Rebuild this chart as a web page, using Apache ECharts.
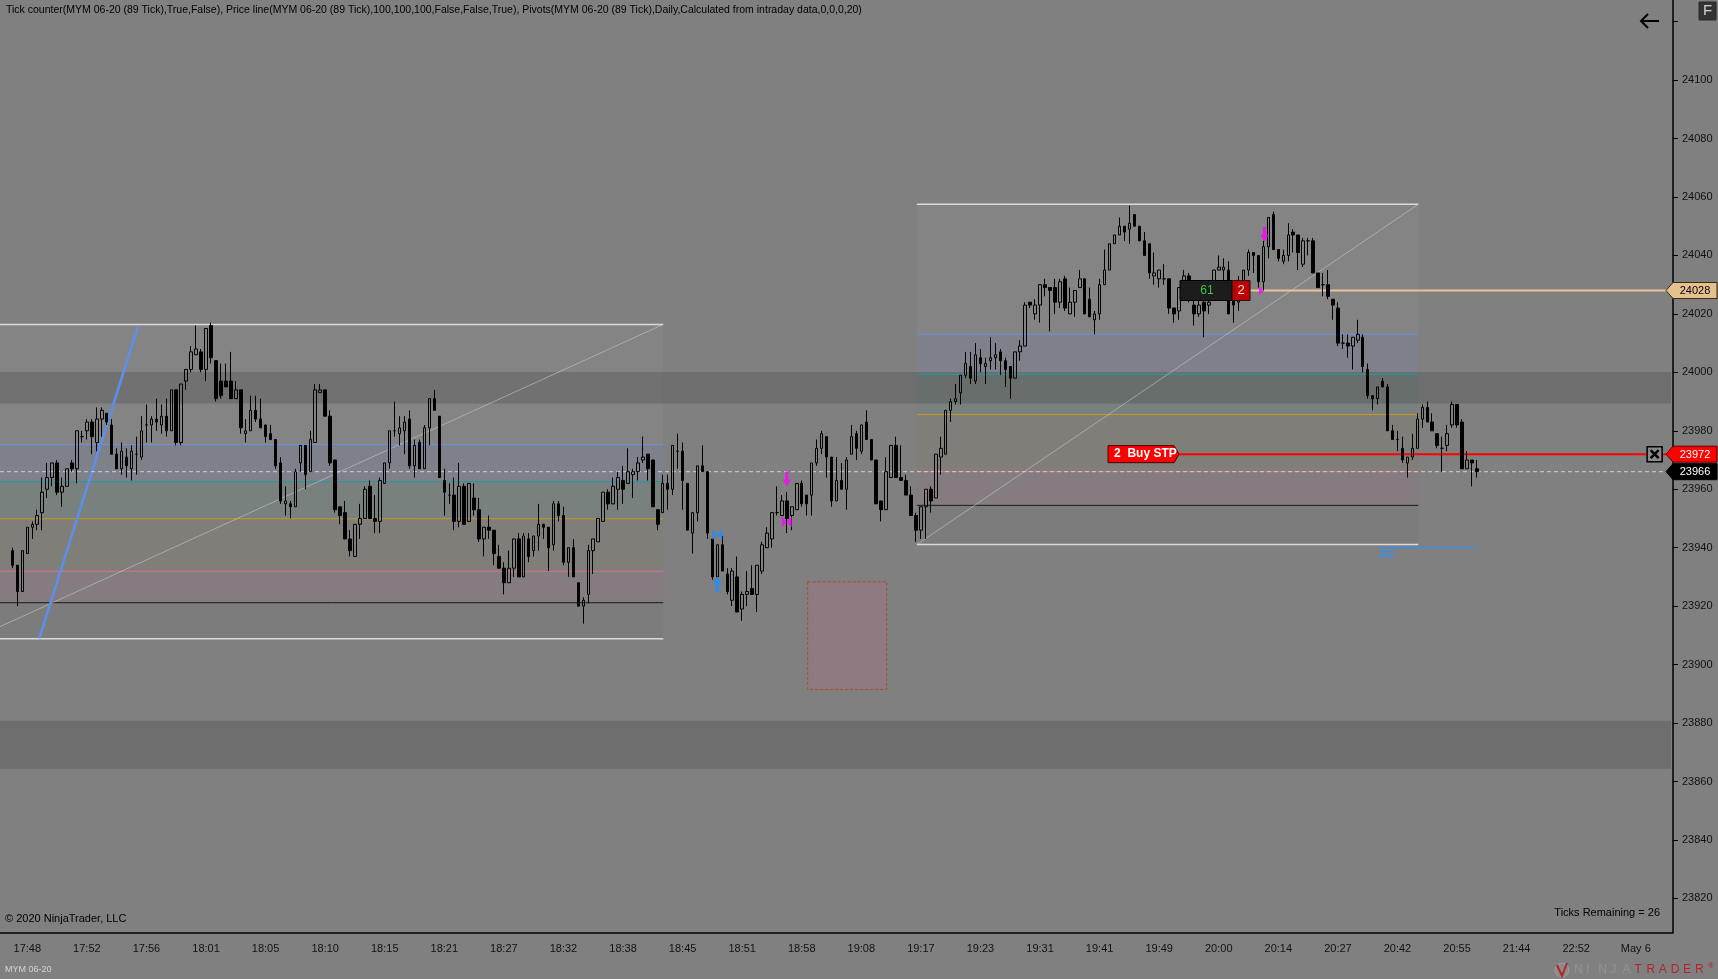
<!DOCTYPE html>
<html><head><meta charset="utf-8">
<script src="https://cdn.jsdelivr.net/npm/echarts@6/dist/echarts.min.js"></script>
<style>html,body{margin:0;padding:0;background:#808080;overflow:hidden}#c{width:1718px;height:979px;}</style>
</head><body><div id="c"></div><script>
// ---------------- data ----------------
const timeLabels = ['17:48','17:52','17:56','18:01','18:05','18:10','18:15','18:21','18:27','18:32','18:38','18:45','18:51','18:58','19:08','19:17','19:23','19:31','19:41','19:49','20:00','20:14','20:27','20:42','20:55','21:44','22:52','May 6'];
const yTickValues = [23820,23840,23860,23880,23900,23920,23940,23960,23980,24000,24020,24040,24060,24080,24100,24120];
const yLabelValues = [23820,23840,23860,23880,23900,23920,23940,23960,23980,24000,24020,24040,24060,24080,24100];
const firstBar = 2;
// [open, close, low, high]
const ohlc = [
[23939,23934,23933,23940],[23934,23925,23920,23934],[23925,23939,23925,23939],[23938,23947,23938,23947],[23947,23948,23943,23949],
[23948,23951,23946,23953],[23952,23959,23946,23964],[23960,23964,23957,23969],[23964,23969,23961,23969],[23969,23959,23958,23970],
[23959,23961,23954,23964],[23961,23967,23961,23967],[23969,23967,23966,23970],[23967,23980,23962,23980],[23978,23978,23976,23980],
[23980,23983,23977,23984],[23983,23978,23972,23984],[23976,23984,23973,23988],[23984,23987,23978,23988],[23986,23983,23982,23986],
[23982,23972,23972,23984],[23972,23967,23967,23974],[23967,23973,23965,23976],[23971,23968,23964,23974],[23967,23973,23963,23975],
[23972,23972,23965,23978],[23971,23980,23970,23985],[23982,23982,23976,23989],[23982,23984,23976,23985],[23984,23983,23980,23991],
[23982,23985,23979,23989],[23985,23980,23978,23991],[23980,23994,23980,23994],[23994,23976,23975,23994],[23976,23996,23975,23996],
[23997,24001,23994,24001],[24001,24007,24000,24009],[24006,24008,24006,24016],[24007,24001,24000,24008],[24001,24015,23997,24015],
[24016,24005,24003,24017],[24004,23991,23990,24004],[23997,23992,23991,24003],[23997,23995,23995,24003],[23997,23991,23991,24007],
[23991,23994,23991,23997],[23994,23981,23979,23994],[23979,23980,23976,23984],[23980,23987,23980,23992],[23987,23984,23983,23992],
[23984,23981,23981,23991],[23982,23978,23976,23982],[23979,23977,23977,23982],[23977,23968,23967,23977],[23969,23956,23955,23971],
[23955,23956,23951,23961],[23955,23954,23950,23956],[23954,23966,23954,23967],[23969,23975,23966,23975],[23975,23965,23960,23975],
[23966,23977,23966,23980],[23976,23994,23976,23996],[23993,23994,23993,23996],[23994,23985,23985,23994],[23985,23969,23968,23987],
[23970,23953,23952,23970],[23954,23951,23948,23954],[23952,23943,23943,23956],[23943,23939,23937,23946],[23937,23948,23937,23948],
[23948,23950,23943,23955],[23950,23960,23950,23961],[23961,23950,23950,23963],[23950,23949,23945,23958],[23949,23963,23945,23964],
[23962,23969,23962,23969],[23969,23980,23967,23980],[23980,23980,23978,23990],[23979,23981,23975,23985],[23980,23983,23972,23985],
[23984,23968,23967,23987],[23968,23975,23964,23977],[23976,23967,23967,23977],[23967,23981,23967,23982],[23981,23991,23975,23991],
[23991,23987,23987,23994],[23985,23964,23964,23985],[23963,23959,23951,23967],[23958,23958,23955,23962],[23958,23949,23946,23964],
[23949,23961,23947,23969],[23961,23948,23948,23962],[23949,23962,23949,23962],[23957,23953,23951,23962],[23953,23943,23942,23957],
[23943,23947,23937,23947],[23947,23946,23943,23951],[23946,23938,23934,23946],[23937,23933,23933,23941],[23933,23928,23924,23935],
[23928,23933,23928,23939],[23933,23943,23930,23943],[23943,23930,23930,23945],[23930,23944,23930,23945],[23943,23937,23935,23945],
[23939,23944,23937,23944],[23944,23948,23939,23955],[23948,23947,23943,23948],[23947,23940,23932,23947],[23941,23955,23939,23956],
[23955,23951,23949,23956],[23951,23935,23934,23954],[23935,23940,23930,23940],[23940,23930,23930,23943],[23928,23920,23920,23928],
[23920,23922,23914,23923],[23924,23939,23921,23941],[23939,23943,23931,23943],[23942,23950,23942,23950],[23949,23959,23949,23959],
[23959,23955,23953,23960],[23955,23961,23955,23964],[23960,23964,23953,23966],[23963,23960,23955,23968],[23962,23966,23962,23974],
[23965,23966,23957,23967],[23966,23969,23963,23971],[23970,23971,23969,23978],[23972,23967,23963,23972],[23970,23954,23954,23970],
[23953,23948,23946,23953],[23952,23962,23952,23965],[23962,23960,23953,23965],[23960,23975,23958,23975],[23973,23973,23967,23979],
[23973,23963,23953,23976],[23962,23946,23946,23962],[23945,23952,23938,23952],[23952,23968,23949,23968],[23968,23966,23966,23975],
[23966,23945,23943,23966],[23943,23930,23929,23943],[23930,23941,23930,23941],[23941,23932,23932,23944],[23931,23925,23924,23933],
[23922,23932,23920,23933],[23930,23918,23918,23937],[23919,23924,23915,23925],[23924,23925,23920,23932],[23926,23924,23924,23934],
[23924,23934,23918,23934],[23932,23941,23931,23942],[23940,23945,23940,23947],[23943,23952,23940,23952],[23952,23952,23951,23961],
[23951,23956,23951,23958],[23956,23950,23945,23959],[23951,23954,23946,23954],[23953,23962,23953,23962],[23962,23955,23954,23963],
[23958,23955,23951,23958],[23958,23969,23951,23969],[23969,23974,23968,23977],[23974,23979,23972,23980],[23978,23971,23964,23978],
[23971,23956,23954,23971],[23956,23963,23956,23971],[23963,23960,23960,23969],[23960,23970,23953,23971],[23972,23978,23972,23982],
[23979,23974,23970,23980],[23973,23982,23972,23982],[23983,23977,23977,23987],[23977,23970,23970,23977],[23970,23955,23955,23970],
[23956,23953,23949,23956],[23953,23966,23953,23971],[23964,23975,23964,23975],[23975,23964,23964,23978],[23964,23963,23963,23975],
[23963,23958,23958,23965],[23958,23951,23951,23961],[23951,23946,23942,23952],[23946,23954,23943,23954],[23954,23960,23943,23960],
[23960,23956,23952,23961],[23957,23972,23957,23972],[23971,23974,23965,23978],[23972,23987,23972,23987],[23987,23990,23983,23991],
[23990,23991,23989,23996],[23993,23999,23989,23999],[23999,24003,23998,24007],[24002,23998,23996,24007],[23997,24006,23996,24010],
[24005,24003,24000,24008],[24002,24003,23996,24005],[24004,24005,24001,24012],[24005,24006,24001,24010],[24007,24004,23999,24008],
[24004,24001,23995,24005],[24002,23998,23991,24002],[23998,24007,23998,24007],[24007,24009,24004,24011],[24009,24023,24009,24024],
[24024,24023,24022,24024],[24020,24023,24018,24025],[24023,24030,24017,24030],[24030,24029,24026,24032],[24029,24028,24014,24029],
[24029,24024,24020,24032],[24024,24031,24022,24032],[24032,24022,24021,24033],[24020,24024,24020,24029],[24024,24028,24019,24028],
[24029,24032,24029,24035],[24032,24020,24020,24032],[24025,24019,24019,24029],[24018,24020,24013,24021],[24020,24030,24018,24032],
[24030,24035,24030,24042],[24035,24044,24035,24044],[24044,24047,24044,24047],[24047,24050,24047,24053],[24050,24048,24045,24050],
[24049,24051,24044,24057],[24054,24050,24050,24054],[24050,24045,24045,24050],[24045,24040,24040,24048],[24044,24034,24032,24044],
[24033,24034,24030,24041],[24032,24035,24029,24035],[24032,24032,24030,24037],[24032,24022,24020,24032],[24022,24020,24017,24022],
[24021,24029,24018,24029],[24029,24033,24027,24035],[24033,24029,24024,24034],[24023,24020,24016,24028],[24020,24023,24019,24027],
[24024,24021,24012,24026],[24023,24024,24020,24025],[24031,24035,24031,24035],[24035,24036,24035,24040],[24035,24036,24031,24039],
[24035,24020,24020,24038],[24025,24023,24017,24025],[24024,24026,24021,24033],[24031,24035,24031,24035],[24035,24041,24033,24042],
[24041,24040,24034,24041],[24040,24031,24029,24040],[24031,24043,24028,24045],[24043,24053,24039,24053],[24054,24042,24042,24055],
[24042,24039,24038,24042],[24038,24040,24037,24042],[24040,24047,24038,24051],[24048,24047,24041,24049],[24047,24041,24035,24047],
[24037,24045,24036,24046],[24045,24045,24040,24046],[24045,24034,24034,24046],[24034,24029,24029,24034],[24030,24030,24026,24034],
[24030,24026,24025,24035],[24025,24023,24018,24025],[24022,24010,24009,24024],[24010,24010,24008,24013],[24010,24009,24005,24013],
[24009,24012,24001,24012],[24011,24013,24010,24018],[24012,24002,24000,24013],[24001,23992,23991,24003],[23992,23991,23987,23992],
[23991,23995,23989,23995],[23997,23995,23995,23998],[23995,23980,23980,23996],[23980,23977,23977,23982],[23977,23977,23973,23980],
[23974,23970,23969,23978],[23969,23971,23964,23971],[23971,23974,23970,23979],[23974,23984,23974,23986],[23984,23988,23981,23989],
[23988,23983,23983,23990],[23983,23980,23980,23986],[23979,23975,23974,23979],[23974,23974,23966,23978],[23975,23979,23973,23982],
[23982,23989,23981,23990],[23989,23982,23981,23989],[23983,23967,23967,23984],[23967,23970,23967,23973],[23970,23969,23961,23970],
[23967,23966,23964,23970]
];
// Fibonacci retracement drawings (anchor low/high prices, bar-index span)
const fibRatios = [0, 0.115, 0.215, 0.382, 0.5, 0.618, 1];
const fibLows = [23908.8, 23941.1];
const fibHighs = [24016.4, 24057.5];
const fibStart = [-0.5, 184.2];
const fibEnd = [133.1, 285.2];
const fibAnchorStart = [-5.9, 184.2];
// dark horizontal zones
const zoneLows = [23989.3, 23864.4];
const zoneHighs = [24000.1, 23880.8];
// pink rectangle
const boxLow = 23891.5, boxHigh = 23928.3, boxFrom = 162.2, boxTo = 178.1;
// blue trend line
const trendPoints = [[7.4, 23909], [27.3, 24015.7]];
const currentPrice = 23966;
const buyStopPrice = 23972, buyStopQty = 2;
const positionPrice = 24028, positionQty = 2, positionTicks = 61;
const r2Price = 23940;
const tagPrices = [24028, 23972, 23966];
const blueMarkers = [[144, 23944.5, 'bowtie'], [144, 23927.5, 'up']];
const pinkMarkers = [[158, 23963.5, 'down'], [158, 23948.8, 'bowtie'], [254.2, 24047.2, 'down'], [253.6, 24027.8, 'tri']];

// ---------------- layout ----------------
const SLOTS = 337;
const FONT = '"Liberation Sans", Arial, sans-serif';
const categories = [];
for (let i = 0; i < SLOTS; i++) {
  const k = (i - 5) / 12;
  categories.push(Number.isInteger(k) && k >= 0 && k < timeLabels.length ? timeLabels[k] : '');
}
const candleData = ohlc.map((d, k) => [firstBar + k, d[0], d[1], d[2], d[3]]);

const fibFillColors = ['rgba(0,0,0,0.03)', 'rgba(168,88,128,0.11)', 'rgba(128,108,58,0.10)', 'rgba(81,135,115,0.16)', 'rgba(108,128,218,0.11)', 'rgba(255,255,255,0.03)'];
const fibLineColors = ['#dadada', '#1a1a1a', '#d9728f', '#c9961c', '#1f9c9c', '#6a92e6', '#dadada'];
const fibFill = [], fibLines = [];
for (let b = 0; b < fibLows.length; b++) {
  const rng = fibHighs[b] - fibLows[b];
  for (let k = 0; k < fibRatios.length; k++) {
    const lv = fibLows[b] + fibRatios[k] * rng;
    fibLines.push([fibStart[b], fibEnd[b], lv, lv, k]);
    if (k < fibRatios.length - 1) fibFill.push([fibStart[b], fibEnd[b], lv, fibLows[b] + fibRatios[k + 1] * rng, k]);
  }
}
const zoneData = zoneLows.map((l, k) => [-0.5, 336.1, l, zoneHighs[k]]);

function rectShape(api) {
  const a = api.coord([api.value(0), api.value(3)]);
  const b = api.coord([api.value(1), api.value(2)]);
  return { x: a[0], y: a[1], width: b[0] - a[0], height: b[1] - a[1] };
}
const symbols = {
  down: { p: 'path://M3,0 L7,0 L7,8 L10,8 L5,15 L0,8 L3,8 Z', s: [8, 15] },
  up: { p: 'path://M5,0 L10,7 L7,7 L7,15 L3,15 L3,7 L0,7 Z', s: [9, 16] },
  bowtie: { p: 'path://M0,0 L5,5 L0,10 Z M10,0 L5,5 L10,10 Z', s: [10, 11] },
  tri: { p: 'path://M0,0 L6,4 L0,8 Z', s: [5, 8] }
};
function markerData(arr) {
  return arr.map(m => ({ value: [m[0], m[1]], symbol: symbols[m[2]].p, symbolSize: symbols[m[2]].s }));
}
const tagFill = ['#e6c190', '#ff0000', '#000000'];
const tagText = ['#000000', '#ffffff', '#ffffff'];
const tagStroke = ['#3a2a10', '#5a0000', '#000000'];

const header = 'Tick counter(MYM 06-20 (89 Tick),True,False), Price line(MYM 06-20 (89 Tick),100,100,100,False,False,True), Pivots(MYM 06-20 (89 Tick),Daily,Calculated from intraday data,0,0,0,20)';

const chart = echarts.init(document.getElementById('c'), null, { renderer: 'canvas' });
const txt = (s, x, y, fill, font, align, va) => ({ type: 'text', style: { text: s, x: x, y: y, fill: fill, font: font, align: align, textAlign: align, verticalAlign: va, textVerticalAlign: va } });

const logoLetters = 'NINJATRADER'.split('');
const logoGraphics = logoLetters.map((ch, k) => ({
  type: 'text', left: 1574 + k * 12.1, top: 964,
  style: { text: ch, font: '12px ' + FONT, fill: k < 5 ? 'rgba(160,160,160,0.55)' : '#b3242b' }
}));

chart.setOption({
  backgroundColor: '#808080',
  animation: false,
  grid: { left: 0, right: 45, top: 0, bottom: 46.7, containLabel: false },
  xAxis: [
    {
      type: 'category', data: categories, boundaryGap: true,
      axisLine: { onZero: false, lineStyle: { color: '#000', width: 1.5 } },
      axisTick: { interval: (i) => categories[i] !== '', alignWithLabel: true, length: 5, lineStyle: { color: '#000' } },
      axisLabel: { interval: (i) => categories[i] !== '', color: '#111', fontSize: 11, fontFamily: FONT, margin: 11 },
      splitLine: { show: false }
    },
    { type: 'value', min: -0.5, max: SLOTS - 0.5, show: false, axisLine: { onZero: false } }
  ],
  yAxis: {
    type: 'value', position: 'right', min: 23808.4, max: 24127.4,
    axisLine: { show: true, onZero: false, lineStyle: { color: '#000', width: 1.5 } },
    axisTick: { show: true, length: 5, customValues: yTickValues, lineStyle: { color: '#000' } },
    axisLabel: { customValues: yLabelValues, formatter: (v) => String(v), color: '#111', fontSize: 11, fontFamily: FONT, margin: 9 },
    splitLine: { show: false }
  },
  graphic: [
    { type: 'text', left: 6, top: 5, style: { text: header, font: '10.5px ' + FONT, fill: '#000' } },
    { type: 'text', left: 5, top: 913, style: { text: '© 2020 NinjaTrader, LLC', font: '11px ' + FONT, fill: '#000' } },
    { type: 'text', right: 58, top: 907, style: { text: 'Ticks Remaining = 26', font: '11px ' + FONT, fill: '#000' } },
    { type: 'text', left: 5, top: 965, style: { text: 'MYM 06-20', font: '9px ' + FONT, fill: '#d4d4d4' } },
    { type: 'rect', shape: { x: 1699, y: 2, width: 17, height: 18 }, style: { fill: '#333333', stroke: '#2a2a2a' } },
    { type: 'text', left: 1703, top: 3, style: { text: 'F', font: '15px ' + FONT, fill: '#d0d0d0' } },
    { type: 'polyline', shape: { points: [[1659, 21], [1641, 21]] }, style: { stroke: '#000', lineWidth: 2 } },
    { type: 'polyline', shape: { points: [[1648, 14], [1641, 21], [1648, 28]] }, style: { stroke: '#000', lineWidth: 2, fill: null } },
    { type: 'circle', shape: { cx: 1562, cy: 970, r: 7 }, style: { fill: 'rgba(150,150,150,0.5)', stroke: 'rgba(170,170,170,0.6)' } },
    { type: 'polyline', shape: { points: [[1557, 965], [1562, 976], [1567, 963]] }, style: { stroke: '#b3242b', lineWidth: 2, fill: null } },
    { type: 'text', left: 1708, top: 962, style: { text: '®', font: '8px ' + FONT, fill: '#b3242b' } }
  ].concat(logoGraphics),
  series: [
    { type: 'custom', name: 'fibFill', xAxisIndex: 1, silent: true, z: 1, data: fibFill, encode: { x: [0, 1], y: [2, 3] },
      renderItem: (p, api) => ({ type: 'rect', shape: rectShape(api), style: { fill: fibFillColors[api.value(4)] } }) },
    { type: 'custom', name: 'zones', xAxisIndex: 1, silent: true, z: 1, data: zoneData, encode: { x: [0, 1], y: [2, 3] },
      renderItem: (p, api) => ({ type: 'rect', shape: rectShape(api), style: { fill: 'rgba(0,0,0,0.14)' } }) },
    { type: 'custom', name: 'fibLines', xAxisIndex: 1, silent: true, z: 2, data: fibLines, encode: { x: [0, 1], y: [2, 3] },
      renderItem: (p, api) => {
        const a = api.coord([api.value(0), api.value(2)]), b = api.coord([api.value(1), api.value(2)]);
        const k = api.value(4);
        return { type: 'line', shape: { x1: a[0], y1: a[1], x2: b[0], y2: b[1] }, style: { stroke: fibLineColors[k], lineWidth: (k === 0 || k === 6) ? 1.5 : 1 } };
      } },
    { type: 'line', name: 'fibAnchor1', xAxisIndex: 1, silent: true, z: 2, showSymbol: false, symbol: 'none',
      data: [[fibAnchorStart[0], fibLows[0]], [fibEnd[0], fibHighs[0]]], lineStyle: { color: 'rgba(205,205,205,0.55)', width: 1 } },
    { type: 'line', name: 'fibAnchor2', xAxisIndex: 1, silent: true, z: 2, showSymbol: false, symbol: 'none',
      data: [[fibAnchorStart[1], fibLows[1]], [fibEnd[1], fibHighs[1]]], lineStyle: { color: 'rgba(205,205,205,0.55)', width: 1 } },
    { type: 'custom', name: 'pinkBox', xAxisIndex: 1, silent: true, z: 2, data: [[boxFrom, boxTo, boxLow, boxHigh]], encode: { x: [0, 1], y: [2, 3] },
      renderItem: (p, api) => ({ type: 'rect', shape: rectShape(api), style: { fill: 'rgba(178,108,135,0.32)', stroke: '#a4501f', lineWidth: 1, lineDash: [3, 2] } }) },
    { type: 'line', name: 'trend', xAxisIndex: 1, silent: true, z: 3, showSymbol: false, symbol: 'none',
      data: trendPoints, lineStyle: { color: '#5b8fef', width: 2.5 } },
    { type: 'line', name: 'price', xAxisIndex: 1, silent: true, z: 3, showSymbol: false, symbol: 'none',
      data: [[-0.5, currentPrice], [SLOTS - 0.5, currentPrice]], lineStyle: { color: '#cfcfcf', width: 1, type: [4, 3] } },
    { type: 'line', name: 'buyStopLine', xAxisIndex: 1, silent: true, z: 4, showSymbol: false, symbol: 'none',
      data: [[237.0, buyStopPrice], [SLOTS - 0.5, buyStopPrice]], lineStyle: { color: '#ff0000', width: 2 } },
    { type: 'line', name: 'positionLine', xAxisIndex: 1, silent: true, z: 4, showSymbol: false, symbol: 'none',
      data: [[251.3, positionPrice], [SLOTS - 0.5, positionPrice]], lineStyle: { color: '#e8c398', width: 2 } },
    { type: 'custom', name: 'R2', xAxisIndex: 1, silent: true, z: 4, data: [[277.5, 297.0, r2Price, r2Price]], encode: { x: [0, 1], y: [2, 3] },
      renderItem: (p, api) => {
        const a = api.coord([api.value(0), api.value(2)]), b = api.coord([api.value(1), api.value(2)]);
        return { type: 'group', children: [
          { type: 'line', shape: { x1: a[0], y1: a[1], x2: b[0], y2: b[1] }, style: { stroke: '#3a8ee6', lineWidth: 1.5 } },
          txt('R2', a[0], a[1] + 2, '#3a8ee6', 'bold 11px ' + FONT, 'left', 'top')
        ] };
      } },
    { type: 'candlestick', name: 'MYM 06-20', z: 5, barWidth: 3, data: candleData, encode: { x: 0, y: [1, 2, 3, 4] },
      itemStyle: { color: 'rgba(0,0,0,0)', color0: '#000', borderColor: '#000', borderColor0: '#000', borderColorDoji: '#000', borderWidth: 1 } },
    { type: 'scatter', name: 'blueMarks', xAxisIndex: 1, silent: true, z: 6, data: markerData(blueMarkers), itemStyle: { color: '#1e8fff' } },
    { type: 'scatter', name: 'pinkMarks', xAxisIndex: 1, silent: true, z: 6, data: markerData(pinkMarkers), itemStyle: { color: '#ff00ff' } },
    { type: 'custom', name: 'buyStop', xAxisIndex: 1, silent: true, z: 7, data: [[222.7, 237.0, buyStopPrice, buyStopQty]], encode: { x: [0, 1], y: 2 },
      renderItem: (p, api) => {
        const a = api.coord([api.value(0), api.value(2)]), b = api.coord([api.value(1), api.value(2)]);
        const y = a[1], h = 8.5;
        return { type: 'group', children: [
          { type: 'polygon', shape: { points: [[a[0], y - h], [b[0] - 5, y - h], [b[0], y], [b[0] - 5, y + h], [a[0], y + h]] }, style: { fill: '#ff0000', stroke: '#4a0000', lineWidth: 1 } },
          txt(api.value(3) + '  Buy STP', a[0] + 6, y, '#ffffff', 'bold 12px ' + FONT, 'left', 'middle')
        ] };
      } },
    { type: 'custom', name: 'position', xAxisIndex: 1, silent: true, z: 7, data: [[237.2, 247.7, 251.3, positionPrice, positionTicks, positionQty]], encode: { x: [0, 2], y: 3 },
      renderItem: (p, api) => {
        const a = api.coord([api.value(0), api.value(3)]), m = api.coord([api.value(1), api.value(3)]), b = api.coord([api.value(2), api.value(3)]);
        const y = a[1], h = 10;
        return { type: 'group', children: [
          { type: 'rect', shape: { x: a[0], y: y - h, width: m[0] - a[0], height: 2 * h }, style: { fill: '#1c1c1c', stroke: '#000', lineWidth: 1 } },
          txt(String(api.value(4)), a[0] + 27, y, '#3cc83c', '12px ' + FONT, 'center', 'middle'),
          { type: 'rect', shape: { x: m[0], y: y - h, width: b[0] - m[0], height: 2 * h }, style: { fill: '#c00000', stroke: '#1a1a1a', lineWidth: 1 } },
          txt(String(api.value(5)), (m[0] + b[0]) / 2, y, '#e0e0e0', '13px ' + FONT, 'center', 'middle')
        ] };
      } },
    { type: 'custom', name: 'closeBox', xAxisIndex: 1, silent: true, z: 7, data: [[332.8, buyStopPrice]], encode: { x: 0, y: 1 },
      renderItem: (p, api) => {
        const c = api.coord([api.value(0), api.value(1)]);
        const s = 7.5;
        return { type: 'group', children: [
          { type: 'rect', shape: { x: c[0] - s, y: c[1] - s, width: 2 * s, height: 2 * s }, style: { fill: '#8a8a8a', stroke: '#000', lineWidth: 1.5 } },
          { type: 'line', shape: { x1: c[0] - 4, y1: c[1] - 4, x2: c[0] + 4, y2: c[1] + 4 }, style: { stroke: '#000', lineWidth: 2.5 } },
          { type: 'line', shape: { x1: c[0] - 4, y1: c[1] + 4, x2: c[0] + 4, y2: c[1] - 4 }, style: { stroke: '#000', lineWidth: 2.5 } }
        ] };
      } },
    { type: 'custom', name: 'priceTags', xAxisIndex: 1, silent: true, z: 8, clip: false, data: tagPrices.map((v, k) => [SLOTS - 0.5, v, k]), encode: { x: 0, y: 1 },
      renderItem: (p, api) => {
        const y = api.coord([api.value(0), api.value(1)])[1];
        const R = p.coordSys.x + p.coordSys.width;
        const k = api.value(2), h = 8;
        return { type: 'group', children: [
          { type: 'polygon', shape: { points: [[R - 7, y], [R, y - h], [R + 44, y - h], [R + 44, y + h], [R, y + h]] }, style: { fill: tagFill[k], stroke: tagStroke[k], lineWidth: 1 } },
          txt(String(api.value(1)), R + 22, y + 0.5, tagText[k], '11px ' + FONT, 'center', 'middle')
        ] };
      } }
  ]
});
</script></body></html>
